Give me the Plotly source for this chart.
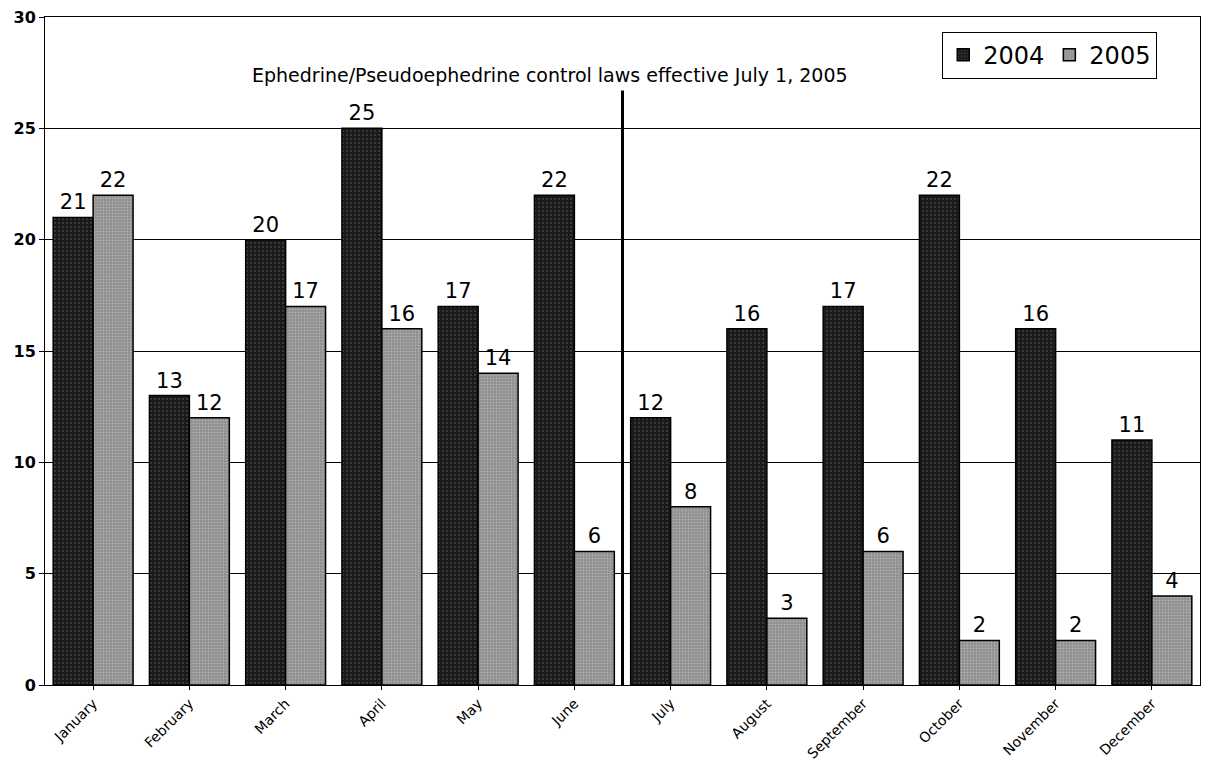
import plotly.graph_objects as go

months = ["January", "February", "March", "April", "May", "June",
          "July", "August", "September", "October", "November", "December"]
values_2004 = [21, 13, 20, 25, 17, 22, 12, 16, 17, 22, 16, 11]
values_2005 = [22, 12, 17, 16, 14, 6, 8, 3, 6, 2, 2, 4]
y_ticks = [0, 5, 10, 15, 20, 25, 30]
note = "Ephedrine/Pseudoephedrine control laws effective July 1, 2005"

FONT = "DejaVu Sans"

fig = go.Figure()
fig.add_trace(go.Bar(
    x=months, y=values_2004, name="2004",
    marker=dict(color="#1c1c1c", line=dict(color="black", width=1.5),
                pattern=dict(shape=".", fgcolor="#6a6a6a", bgcolor="#1a1a1a",
                             size=4, solidity=0.2)),
    text=[str(v) for v in values_2004], textposition="outside",
    textfont=dict(size=21, color="black", family=FONT),
    cliponaxis=False,
))
fig.add_trace(go.Bar(
    x=months, y=values_2005, name="2005",
    marker=dict(color="#9a9a9a", line=dict(color="black", width=1.5),
                pattern=dict(shape=".", fgcolor="#d4d4d4", bgcolor="#8e8e8e",
                             size=3, solidity=0.3)),
    text=[str(v) for v in values_2005], textposition="outside",
    textfont=dict(size=21, color="black", family=FONT),
    cliponaxis=False,
))

# Divider between June and July marking the law change
fig.add_shape(type="line", xref="x", yref="y", x0=5.5, x1=5.5, y0=-0.5, y1=26.7,
              line=dict(color="black", width=3))
fig.add_annotation(x=4.75, y=27.4, xref="x", yref="y", text=note, showarrow=False,
                   font=dict(size=19, color="black", family=FONT))

fig.update_layout(
    width=1209, height=775,
    margin=dict(l=45, r=8, t=14, b=90),
    paper_bgcolor="white", plot_bgcolor="white",
    barmode="group", bargap=0.17, bargroupgap=0,
    font=dict(family=FONT, color="black"),
    showlegend=True,
    legend=dict(orientation="h", x=0.963, xanchor="right", y=0.978, yanchor="top",
                bordercolor="black", borderwidth=1, bgcolor="white",
                font=dict(size=24, family=FONT), itemwidth=30,
                tracegroupgap=0, traceorder="normal"),
    xaxis=dict(type="category", tickangle=-45, tickfont=dict(size=14, family=FONT),
               showline=True, linecolor="black", linewidth=1,
               ticks="outside", ticklen=4, tickcolor="black",
               mirror=True, showgrid=False),
    yaxis=dict(range=[0, 30], tickvals=y_ticks,
               tickfont=dict(size=16, family=FONT, color="black", weight="bold"),
               showline=True, linecolor="black", linewidth=1, mirror=True,
               ticks="outside", ticklen=5, tickcolor="black",
               showgrid=True, gridcolor="black", gridwidth=1, zeroline=False),
)

fig.write_html("out.html")
